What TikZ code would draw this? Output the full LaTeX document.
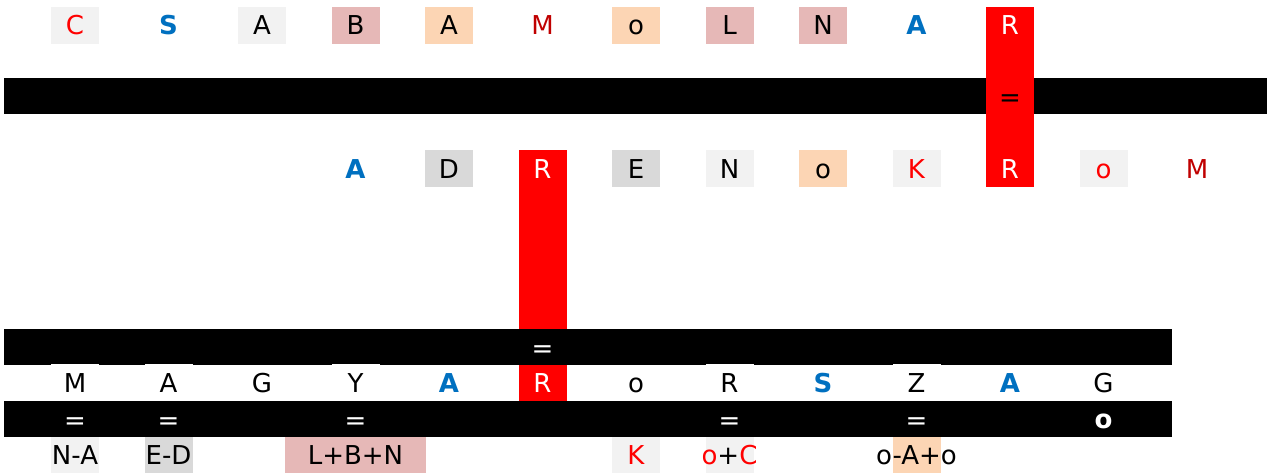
\documentclass[tikz,border=0pt]{standalone}
\usepackage{fontspec}
\setmainfont{DejaVu Sans}
\definecolor{pinkc}{HTML}{E6B8B7}
\definecolor{peachc}{HTML}{FCD5B4}
\definecolor{lgray}{HTML}{F2F2F2}
\definecolor{mgray}{HTML}{D9D9D9}
\definecolor{redc}{HTML}{FF0000}
\definecolor{dred}{HTML}{C00000}
\definecolor{bluec}{HTML}{0070C0}
\begin{document}
\begin{tikzpicture}[x=1pt,y=-1pt,
  cell/.style={minimum width=48pt, minimum height=37pt, inner sep=0pt, outer sep=0pt,
    font=\fontsize{26}{30}\selectfont, text height=19pt, text depth=0pt},
  txt/.style={inner sep=0pt, outer sep=0pt, font=\fontsize{26}{30}\selectfont, text height=19pt, text depth=0pt},
  bl/.style={text=bluec, font=\fontsize{26}{30}\selectfont\bfseries},
  bar/.style={fill=black, inner sep=0pt, outer sep=0pt, minimum height=36pt, anchor=north west},
  redcol/.style={fill=redc, inner sep=0pt, outer sep=0pt, minimum width=48pt, anchor=north}
]
\useasboundingbox[fill=white] (0,0) rectangle (1273,476);

% ---- top row ----
\node[cell, fill=lgray, text=redc] (t0) at (75,25.5) {C};
\node[cell, bl] (t1) at (168.5,25.5) {S};
\node[cell, fill=lgray] (t2) at (262,25.5) {A};
\node[cell, fill=pinkc] (t3) at (355.5,25.5) {B};
\node[cell, fill=peachc] (t4) at (449,25.5) {A};
\node[cell, text=dred] (t5) at (542.5,25.5) {M};
\node[cell, fill=peachc] (t6) at (636,25.5) {o};
\node[cell, fill=pinkc] (t7) at (729.5,25.5) {L};
\node[cell, fill=pinkc] (t8) at (823,25.5) {N};
\node[cell, bl] (t9) at (916.5,25.5) {A};

% ---- bar 1 and red column ----
\node[bar, minimum width=1263pt] (bar1) at (4,78) {};
\node[redcol, minimum height=180pt] (rc1) at (1010,7) {};
\node[txt, text=white] (t10) at (1010,25.5) {R};
\node[txt, text=black] (eq1) at (1010,97) {=};

% ---- middle row ----
\node[cell, bl] (m3) at (355.5,168.5) {A};
\node[cell, fill=mgray] (m4) at (449,168.5) {D};
\node[redcol, minimum height=179pt] (rc2) at (542.5,150) {};
\node[txt, text=white] (m5) at (542.5,168.5) {R};
\node[cell, fill=mgray] (m6) at (636,168.5) {E};
\node[cell, fill=lgray] (m7) at (729.5,168.5) {N};
\node[cell, fill=peachc] (m8) at (823,168.5) {o};
\node[cell, fill=lgray, text=redc] (m9) at (916.5,168.5) {K};
\node[txt, text=white] (m10) at (1010,168.5) {R};
\node[cell, fill=lgray, text=redc] (m11) at (1103.5,168.5) {o};
\node[cell, text=dred] (m12) at (1197,168.5) {M};

% ---- bar 2 ----
\node[bar, minimum width=1168pt] (bar2) at (4,329) {};
\node[txt, text=white] (eq2) at (542.5,348) {=};

% ---- bottom row ----
\node[cell, fill=white] (b0) at (75,382.5) {M};
\node[cell, fill=white] (b1) at (168.5,382.5) {A};
\node[cell] (b2) at (262,383) {G};
\node[cell, fill=white] (b3) at (355.5,382.5) {Y};
\node[cell, bl] (b4) at (449,383) {A};
\node[cell, fill=redc, text=white, minimum height=36pt] (b5) at (542.5,383) {R};
\node[cell] (b6) at (636,383) {o};
\node[cell, fill=white] (b7) at (729.5,382.5) {R};
\node[cell, bl] (b8) at (823,383) {S};
\node[cell, fill=white] (b9) at (916.5,382.5) {Z};
\node[cell, bl] (b10) at (1010,383) {A};
\node[cell] (b11) at (1103.5,383) {G};

% ---- bar 3 ----
\node[bar, minimum width=1168pt] (bar3) at (4,401) {};
\node[txt, text=white] (e0) at (75,420) {=};
\node[txt, text=white] (e1) at (168.5,420) {=};
\node[txt, text=white] (e3) at (355.5,420) {=};
\node[txt, text=white] (e7) at (729.5,420) {=};
\node[txt, text=white] (e9) at (916.5,420) {=};
\node[txt, text=white, font=\fontsize{26}{30}\selectfont\bfseries] (e11) at (1103.5,419) {o};

% ---- label row ----
\node[cell, fill=lgray, minimum height=36pt] (l0) at (75,455) {N-A};
\node[cell, fill=mgray, minimum height=36pt] (l1) at (168.5,455) {E-D};
\node[cell, fill=pinkc, minimum height=36pt, minimum width=141pt] (l3) at (355.5,455) {L+B+N};
\node[cell, fill=lgray, text=redc, minimum height=36pt] (l6) at (636,455) {K};
\node[cell, fill=lgray, minimum height=36pt] (l7box) at (729.5,455) {};
\node[txt] (l7) at (729.5,455) {\textcolor{redc}{o}+\textcolor{redc}{C}};
\node[cell, fill=peachc, minimum height=36pt] (l9box) at (916.5,455) {};
\node[txt] (l9) at (916.5,455) {o-A+o};
\end{tikzpicture}
\end{document}
